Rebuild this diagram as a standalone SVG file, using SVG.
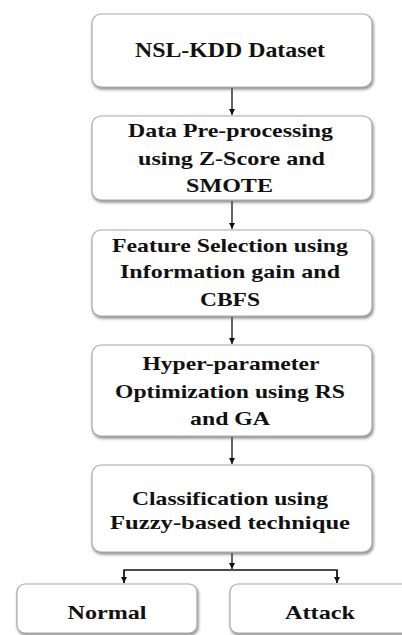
<svg xmlns="http://www.w3.org/2000/svg" width="402" height="635" viewBox="0 0 402 635">
<defs>
<filter id="sh" x="-10%" y="-10%" width="120%" height="130%">
<feGaussianBlur in="SourceAlpha" stdDeviation="1.5"/>
<feOffset dx="1" dy="2" result="b"/>
<feFlood flood-color="#555" flood-opacity="0.7"/>
<feComposite in2="b" operator="in"/>
<feMerge><feMergeNode/><feMergeNode in="SourceGraphic"/></feMerge>
</filter>
<marker id="ah" viewBox="0 0 10 10" refX="10" refY="5" markerWidth="6" markerHeight="6" markerUnits="userSpaceOnUse" orient="auto">
<path d="M0,0 L10,5 L0,10 z" fill="#111"/>
</marker>
</defs>
<style>
.box{fill:#fff;stroke:#aaa;stroke-width:1.2;filter:url(#sh)}
.t{font-family:"Liberation Serif","Times New Roman",serif;font-weight:bold;fill:#111;text-anchor:middle}
.c{stroke:#111;stroke-width:1.3;fill:none}
</style>
<rect width="402" height="635" fill="#fff"/>
<g id="connectors">
<line class="c" x1="232" y1="88" x2="232" y2="115" marker-end="url(#ah)"/>
<line class="c" x1="232" y1="201" x2="232" y2="229" marker-end="url(#ah)"/>
<line class="c" x1="232" y1="317" x2="232" y2="344" marker-end="url(#ah)"/>
<line class="c" x1="232" y1="437" x2="232" y2="464" marker-end="url(#ah)"/>
<line class="c" x1="232" y1="553" x2="232" y2="569" marker-end="url(#ah)"/>
<polyline class="c" points="124,583 124,570 337,570 337,583"/>
<line class="c" x1="124" y1="570" x2="124" y2="583" marker-end="url(#ah)"/>
<line class="c" x1="337" y1="570" x2="337" y2="583" marker-end="url(#ah)"/>
</g>
<g id="n1">
<rect class="box" x="92" y="14" width="280" height="73" rx="9"/>
<text class="t" x="230" y="57" font-size="22" textLength="190" lengthAdjust="spacingAndGlyphs">NSL-KDD Dataset</text>
</g>
<g id="n2">
<rect class="box" x="92" y="116" width="280" height="84" rx="9"/>
<text class="t" x="230.5" y="137" font-size="19" textLength="205" lengthAdjust="spacingAndGlyphs">Data Pre-processing</text>
<text class="t" x="231.5" y="165" font-size="19" textLength="187" lengthAdjust="spacingAndGlyphs">using Z-Score and</text>
<text class="t" x="229.5" y="192" font-size="19" textLength="87" lengthAdjust="spacingAndGlyphs">SMOTE</text>
</g>
<g id="n3">
<rect class="box" x="92" y="230" width="280" height="86" rx="9"/>
<text class="t" x="230" y="252" font-size="19" textLength="236" lengthAdjust="spacingAndGlyphs">Feature Selection using</text>
<text class="t" x="230" y="278" font-size="19" textLength="220" lengthAdjust="spacingAndGlyphs">Information gain and</text>
<text class="t" x="230" y="306" font-size="19" textLength="60" lengthAdjust="spacingAndGlyphs">CBFS</text>
</g>
<g id="n4">
<rect class="box" x="92" y="345" width="280" height="91" rx="9"/>
<text class="t" x="231" y="370" font-size="19" textLength="177" lengthAdjust="spacingAndGlyphs">Hyper-parameter</text>
<text class="t" x="230" y="398" font-size="19" textLength="230" lengthAdjust="spacingAndGlyphs">Optimization using RS</text>
<text class="t" x="230" y="425" font-size="19" textLength="80" lengthAdjust="spacingAndGlyphs">and GA</text>
</g>
<g id="n5">
<rect class="box" x="92" y="465" width="280" height="87" rx="9"/>
<text class="t" x="230" y="505" font-size="19" textLength="196" lengthAdjust="spacingAndGlyphs">Classification using</text>
<text class="t" x="230" y="529" font-size="19" textLength="240" lengthAdjust="spacingAndGlyphs">Fuzzy-based technique</text>
</g>
<g id="n6">
<rect class="box" x="17" y="584" width="180" height="49" rx="8"/>
<text class="t" x="107" y="619" font-size="19" textLength="79" lengthAdjust="spacingAndGlyphs">Normal</text>
</g>
<g id="n7">
<rect class="box" x="230" y="584" width="180" height="49" rx="8"/>
<text class="t" x="320" y="619" font-size="19" textLength="70" lengthAdjust="spacingAndGlyphs">Attack</text>
</g>
</svg>
